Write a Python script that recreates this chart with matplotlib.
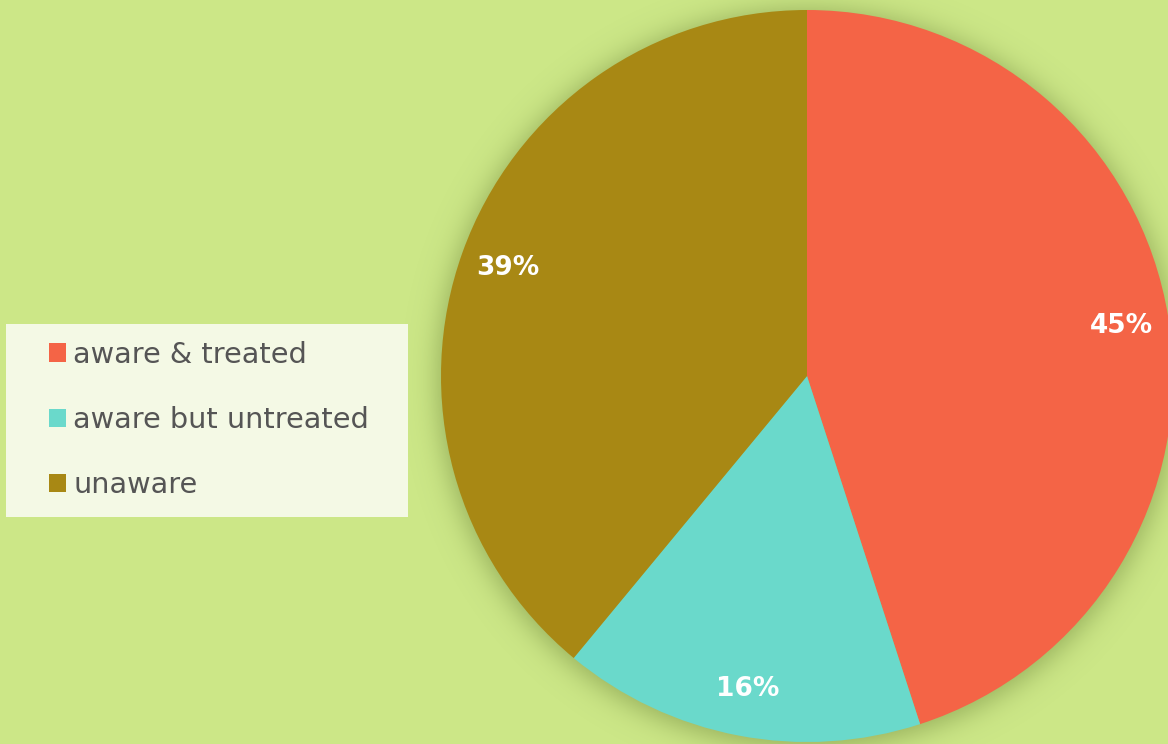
import matplotlib
matplotlib.use("Agg")
import matplotlib.pyplot as plt
import numpy as np
from matplotlib.patches import Rectangle

# --- data --------------------------------------------------------------
labels = ["aware & treated", "aware but untreated", "unaware"]
shares = [45, 16, 39]
colours = ["#f46446", "#6ad9cb", "#a88814"]

BG = "#cce787"
W, H = 1168, 744

fig = plt.figure(figsize=(W / 100, H / 100), dpi=100, facecolor=BG)
ax = fig.add_axes([0, 0, 1, 1])
ax.set_aspect("equal")
ax.axis("off")

cx, cy, r = 807, 744 - 376, 366

# blurred drop shadow behind the pie
yy, xx = np.mgrid[0:H, 0:W] + 0.5
d = np.hypot(xx - cx, yy - (cy - 3)) - r
alpha = 0.36 * 0.5 * (1 - np.tanh((d - 4) / 16.0))
shadow = np.zeros((H, W, 4))
shadow[..., 0], shadow[..., 1], shadow[..., 2] = 0.25, 0.33, 0.08
shadow[..., 3] = np.clip(alpha, 0, 1)
ax.imshow(shadow, extent=(0, W, 0, H), origin="lower", zorder=1,
          interpolation="bilinear")

wedges, _, autotexts = ax.pie(
    shares, colors=colours, startangle=90, counterclock=False,
    center=(cx, cy), radius=r, autopct="%d%%", pctdistance=0.87,
    wedgeprops=dict(linewidth=0, zorder=2),
    textprops=dict(color="white", fontsize=19, fontweight="bold"),
)
for t in autotexts:
    t.set_zorder(3)
ax.set_xlim(0, W)
ax.set_ylim(0, H)

# legend panel
ax.add_patch(Rectangle((6, H - 517), 402, 193, facecolor="#f4f9e5",
                       edgecolor="none", zorder=4))
leg = ax.legend(
    wedges, labels, loc="center left", bbox_to_anchor=(49 / W, (H - 420) / H),
    bbox_transform=fig.transFigure, frameon=False,
    fontsize=20.7, labelcolor="#555555", handlelength=0.6, handleheight=0.6,
    handletextpad=0.25, labelspacing=1.3, borderpad=0, borderaxespad=0,
)
leg.set_zorder(5)

fig.savefig("out.png", dpi=100, facecolor=BG)
